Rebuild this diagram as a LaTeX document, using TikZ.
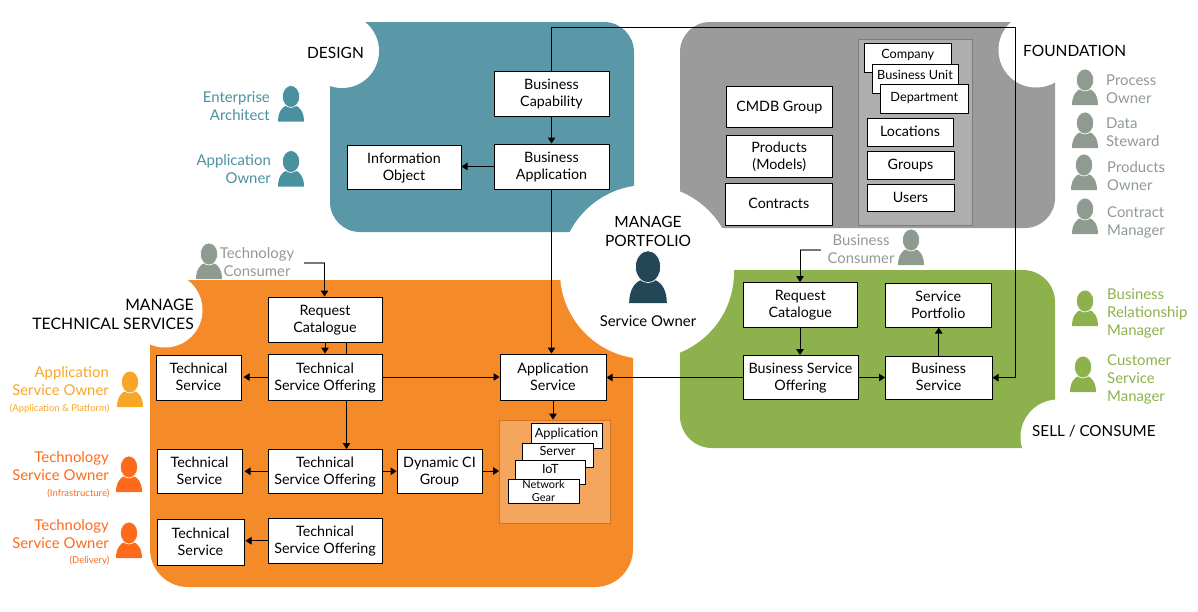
\documentclass[tikz,border=0pt]{standalone}
\usepackage{fontspec}
\setmainfont{Lato}
\usetikzlibrary{arrows.meta,calc}
\definecolor{cDesign}{HTML}{5B98A7}
\definecolor{cDesignT}{HTML}{4A919F}
\definecolor{cFound}{HTML}{9B9B9B}
\definecolor{cFoundIn}{HTML}{AEAEAE}
\definecolor{cPers}{HTML}{8F9B90}
\definecolor{cGreen}{HTML}{8DB14D}
\definecolor{cOrange}{HTML}{F58A29}
\definecolor{cOrangeIn}{HTML}{F4A65E}
\definecolor{cAmber}{HTML}{F8A627}
\definecolor{cTech}{HTML}{FE6A1B}
\definecolor{cDark}{HTML}{234757}
\newcommand{\mystrut}{\rule[-5pt]{0pt}{17pt}}
\newcommand{\bx}[6]{\node[boxn,minimum width=#4pt-#2pt,minimum height=#5pt-#3pt] (#1) at ({(#2+#4)/2},{(#3+#5)/2}) {};
 \node[boxt] (#1t) at (#1.center) {\mystrut #6\mystrut};}
\newcommand{\sbx}[7]{\node[boxn,minimum width=#4pt-#2pt,minimum height=#5pt-#3pt] (#1) at ({(#2+#4)/2},{(#3+#5)/2}) {};
 \node[inner sep=0pt,text=black,font=\fontsize{12.7}{14}\selectfont,anchor=center] (#1t) at ({(#2+#4)/2},#7) {\rule[-3pt]{0pt}{12pt}#6};}
\newcommand{\person}[4]{%
 \begin{scope}[shift={(#1,#2)},scale=#4]
  \fill[#3] (-13,0) .. controls (-13,-9) and (-9,-15) .. (-4,-16) -- (4,-16) .. controls (9,-15) and (13,-9) .. (13,0) -- cycle;
  \fill[#3,draw=white,line width=.7pt] (0,-25) ellipse [x radius=8.7, y radius=11];
 \end{scope}}
\tikzset{
 boxn/.style={draw=black,line width=1pt,fill=white,inner sep=0pt,align=center,font=\fontsize{14}{17}\selectfont,text=black},
 boxt/.style={inner sep=0pt,align=center,font=\fontsize{14.3}{17}\selectfont,text=black,yshift=-1pt},
 arr/.style={-{Triangle[length=6pt,width=7.5pt]},line width=1pt,draw=black},
 plainl/.style={line width=1pt,draw=black},
 greyl/.style={line width=1.1pt,draw=cPers!80!black},
 lab/.style={inner sep=0pt,font=\fontsize{14.9}{18}\selectfont},
 ttl/.style={inner sep=0pt,font=\fontsize{15.5}{19.5}\selectfont,text=black},
 tiny/.style={inner sep=0pt,font=\fontsize{9.5}{11}\selectfont},
 innerp/.style={inner sep=0pt,line width=.8pt},
}
\begin{document}
\begin{tikzpicture}[x=1pt,y=-1pt]
\useasboundingbox (0,0) rectangle (1198,611);
% panels
\fill[cDesign,rounded corners=30pt] (330,22) rectangle (634,232);
\fill[cFound,rounded corners=30pt] (680,22) rectangle (1055,228);
\fill[cOrange,rounded corners=38pt] (150,280) rectangle (633,587);
\fill[cGreen,rounded corners=32pt] (680,270) rectangle (1055,448);
% white cut-outs
\fill[white] (342,51) circle [radius=37];
\fill[white] (1036,50) circle [radius=37.5];
\fill[white] (165,310) circle [radius=37.5];
\fill[white] (1058,437) circle [radius=37.5];
\fill[white] (647,272) circle [radius=87];
% inner panels
\node[innerp,fill=cFoundIn,draw=cFound!80!black,minimum width=113.5pt,minimum height=186pt] (fin) at (915.25,132.5) {};
\node[innerp,fill=cOrangeIn,draw=cOrange!85!black,minimum width=110.5pt,minimum height=103pt] (oin) at (554.75,471.5) {};
% boxes
\bx{bc}{494}{71}{609}{116}{Business\\Capability}
\bx{ba}{494}{144}{609}{189}{Business\\Application}
\bx{io}{347}{145}{461}{189}{Information\\Object}
\bx{cmdb}{726.5}{86}{832}{127.5}{CMDB Group}
\bx{prod}{726.5}{135.5}{832}{177.5}{Products\\(Models)}
\bx{contr}{725.5}{183}{832}{225}{Contracts}
\sbx{comp}{864.5}{43}{951}{72}{Company}{55}
\sbx{bu}{872}{64}{958}{93}{Business Unit}{76}
\sbx{dept}{880.5}{84.5}{968}{113.5}{Department}{98}
\bx{loc}{867}{118.5}{953}{146}{Locations}
\bx{grp}{867}{151}{954}{179.5}{Groups}
\bx{usr}{867}{184}{954}{211.5}{Users}
\bx{rcg}{743.5}{282.5}{857}{327}{Request\\Catalogue}
\bx{sp}{885}{283}{991.5}{327}{Service\\Portfolio}
\bx{bso}{743}{355.5}{858}{399.5}{Business Service\\Offering}
\bx{bs}{885.5}{356}{992}{399.5}{Business\\Service}
\bx{rco}{268}{297}{382}{342}{Request\\Catalogue}
\bx{tsoa}{268}{354}{382}{400}{Technical\\Service Offering}
\bx{tsa}{156}{355}{241}{400}{Technical\\Service}
\bx{tsob}{268}{449.5}{382}{493}{Technical\\Service Offering}
\bx{tsb}{157}{449.5}{242}{493}{Technical\\Service}
\bx{tsoc}{268}{518}{382}{563.5}{Technical\\Service Offering}
\bx{tsc}{157}{519.5}{244}{565}{Technical\\Service}
\bx{dci}{397}{449}{482}{493}{Dynamic CI\\Group}
\bx{as}{500}{354}{606}{400}{Application\\Service}
\sbx{app}{531}{423}{602}{448}{Application}{434.5}
\sbx{srv}{522}{443}{593}{467}{Server}{452}
\sbx{iot}{515}{460}{585.5}{484}{IoT}{470}
\node[boxn,minimum width=71pt,minimum height=24pt,text width=71pt,font=\fontsize{11}{13.5}\selectfont] (net) at (543.5,491) {Network\\Gear};
% connectors
\coordinate (ctop) at (1015,27.5);
\coordinate (vr) at (346.5,420);
\coordinate (tca) at (304,263);
\coordinate (tcb) at (324.5,263);
\coordinate (bca) at (821,250);
\coordinate (bcb) at (800,250);
\draw[arr] (bc.north) |- (ctop) |- (bs.east);
\draw[arr] (bc.south) -- (ba.north);
\draw[arr] (ba.west) -- (ba.west -| io.east);
\draw[arr] (ba.south) -- (ba.south |- as.north);
\draw[greyl] (tca) -- (tcb);
\draw[arr] (tcb) -- (tcb |- rco.north);
\draw[greyl] (bca) -- (bcb);
\draw[arr] (bcb) -- (bcb |- rcg.north);
\draw[arr] (rcg.south -| bcb) -- (bso.north -| bcb);
\draw[arr] (bs.north) -- (bs.north |- sp.south);
\draw[arr] (bso.east) -- (bso.east -| bs.west);
\draw[arr] (bso.west) -- (bso.west -| as.east);
\draw[arr] (rco.south) -- (tsoa.north);
\draw[plainl] (rco.south -| vr) -- (tsoa.north -| vr);
\draw[arr] (tsoa.south -| vr) -- (tsob.north -| vr);
\draw[arr,shorten >=2pt] (tsoa.west) -- (tsoa.west -| tsa.east);
\draw[arr] (tsoa.east) -- (tsoa.east -| as.west);
\draw[arr,shorten >=2pt] (tsob.west) -- (tsob.west -| tsb.east);
\draw[arr] (tsob.east) -- (tsob.east -| dci.west);
\draw[arr] (dci.east) -- (dci.east -| oin.west);
\draw[arr,shorten >=1pt] (tsoc.west) -- (tsoc.west -| tsc.east);
\draw[arr] (as.south) -- (as.south |- oin.north);
% persons
\person{291}{121.5}{cDesignT}{1}
\person{291}{186.5}{cDesignT}{1}
\person{209}{279}{cPers}{1}
\person{1085}{105}{cPers}{1}
\person{1085}{148}{cPers}{1}
\person{1084}{190}{cPers}{1}
\person{1085}{234}{cPers}{1}
\person{911}{265}{cPers}{1}
\person{1085}{326}{cGreen}{1}
\person{1083}{392}{cGreen}{1}
\person{130}{407}{cAmber}{1}
\person{129}{492}{cTech}{1}
\person{129}{558}{cTech}{1}
\person{648}{303}{cDark}{1.45}
% titles
\node[ttl,anchor=east] (tdesign) at (364,53) {DESIGN};
\node[ttl,anchor=west] (tfound) at (1023,51) {FOUNDATION};
\node[ttl,align=center] (tport) at (648,231.5) {MANAGE\\PORTFOLIO};
\node[lab,text=black] (tso) at (648,321) {Service Owner};
\node[ttl,align=right,anchor=east,font=\fontsize{15.8}{19.5}\selectfont] (ttech) at (194,314.5) {MANAGE\\TECHNICAL SERVICES};
\node[ttl,anchor=west,font=\fontsize{15.2}{19}\selectfont] (tsell) at (1032,431) {SELL / CONSUME};
% role labels
\node[lab,text=cDesignT,align=right,anchor=east] (lea) at (270,106) {Enterprise\\Architect};
\node[lab,text=cDesignT,align=right,anchor=east] (lao) at (271,169) {Application\\Owner};
\node[lab,text=cPers,align=center] (ltc) at (257,262) {Technology\\Consumer};
\node[lab,text=cPers,align=center] (lbc) at (861,249) {Business\\Consumer};
\node[lab,text=cPers,align=left,anchor=west] (lpo) at (1106,89) {Process\\Owner};
\node[lab,text=cPers,align=left,anchor=west] (lds) at (1106,132) {Data\\Steward};
\node[lab,text=cPers,align=left,anchor=west] (lpr) at (1107,176) {Products\\Owner};
\node[lab,text=cPers,align=left,anchor=west] (lcm) at (1107,222) {Contract\\Manager};
\node[lab,text=cGreen,align=left,anchor=west] (lbr) at (1107,313) {Business\\Relationship\\Manager};
\node[lab,text=cGreen,align=left,anchor=west] (lcs) at (1107,379) {Customer\\Service\\Manager};
\node[lab,text=cAmber,align=right,anchor=east] (las) at (109,381) {Application\\Service Owner};
\node[tiny,text=cAmber,anchor=east] (lasb) at (109.5,409) {(Application \& Platform)};
\node[lab,text=cTech,align=right,anchor=east] (lti) at (109,466) {Technology\\Service Owner};
\node[tiny,text=cTech,anchor=east] (ltib) at (109.5,493.5) {(Infrastructure)};
\node[lab,text=cTech,align=right,anchor=east] (ltd) at (109,534) {Technology\\Service Owner};
\node[tiny,text=cTech,anchor=east] (ltdb) at (109.5,561) {(Delivery)};
\end{tikzpicture}
\end{document}
